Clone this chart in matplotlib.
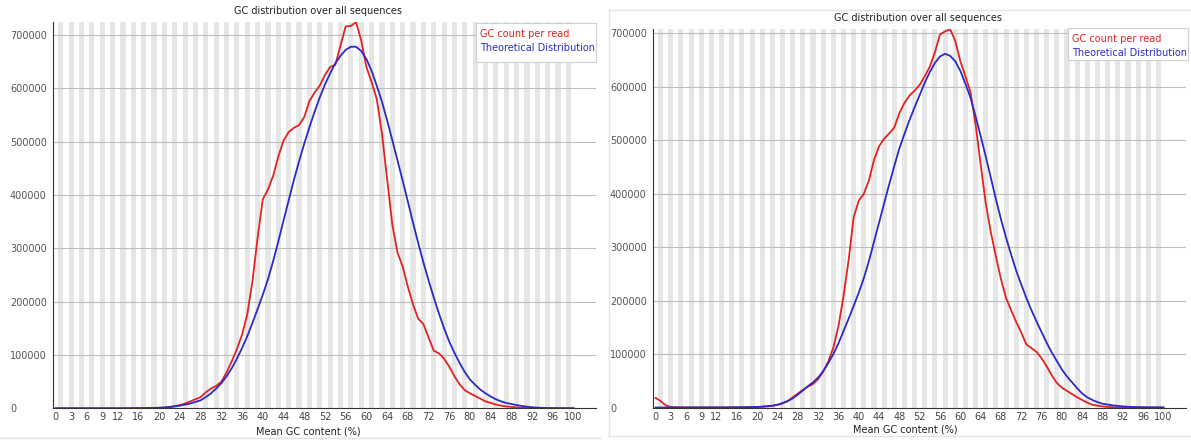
import matplotlib
matplotlib.use('Agg')
import matplotlib.pyplot as plt
from matplotlib.patches import Rectangle
from matplotlib.lines import Line2D
from matplotlib.transforms import Affine2D

W, H = 1191, 441

gc = list(range(101))

# read counts per mean GC bin, in thousands of reads
left_count = [
    0, 0, 0, 0, 0, 0, 0, 0, 0, 0,
    0, 0, 0, 0, 0, 0.2, 0.3, 0.4, 0.5, 0.7,
    1, 1.5, 2.5, 4, 6, 9, 13, 17, 21, 30,
    37, 42, 50, 67, 88, 111, 138, 176, 238, 320,
    392, 410, 436, 472, 502, 518, 526, 531, 546, 576,
    592, 605, 625, 640, 644, 680, 716, 717, 724, 690,
    640, 612, 580, 516, 430, 345, 292, 266, 228, 195,
    168, 158, 133, 108, 103, 93, 78, 60, 45, 34,
    28, 23, 18, 13, 10, 7, 5, 3.5, 2.5, 1.8,
    1.2, 0.8, 0.5, 0.3, 0.2, 0.1, 0, 0, 0, 0,
    0]
left_theory = [
    0, 0, 0, 0, 0, 0, 0, 0, 0, 0,
    0, 0, 0, 0, 0.1, 0.2, 0.3, 0.4, 0.5, 0.7,
    1, 1.5, 2.5, 3.5, 5, 7, 9, 12, 15, 21,
    28, 37, 47, 60, 75, 93, 113, 135, 160, 186,
    213, 242, 276, 313, 352, 390, 428, 463, 496, 527,
    556, 583, 607, 628, 647, 661, 672, 678, 678, 670,
    655, 633, 605, 575, 540, 503, 465, 427, 388, 348,
    310, 274, 240, 208, 178, 150, 125, 104, 85, 68,
    54, 44, 35, 28, 22, 17, 13, 10, 8, 6,
    4.5, 3, 2, 1.2, 0.8, 0.5, 0.3, 0.2, 0.1, 0,
    0]
right_count = [
    18, 12, 4, 1, 0.5, 0.3, 0.3, 0.3, 0.3, 0.3,
    0.3, 0.3, 0.3, 0.3, 0.3, 0.3, 0.4, 0.5, 0.6, 0.8,
    1, 1.5, 2, 3, 5, 8, 12, 19, 26, 33,
    39, 44, 53, 67, 86, 112, 152, 208, 275, 356,
    387, 400, 425, 463, 489, 503, 513, 524, 551, 570,
    584, 593, 604, 620, 638, 665, 698, 704, 708, 686,
    648, 620, 590, 530, 455, 382, 328, 283, 240, 205,
    182, 160, 140, 118, 111, 104, 92, 77, 60, 46,
    37, 31, 25, 19, 14, 9, 5, 3.5, 2, 1,
    0.5, 0.4, 0.3, 0.2, 0.1, 0, 0, 0, 0, 0,
    0]
right_theory = [
    0, 0, 0, 0, 0, 0, 0, 0, 0, 0,
    0, 0, 0, 0, 0.1, 0.2, 0.3, 0.4, 0.6, 0.8,
    1, 1.5, 2.5, 3.5, 5, 8, 12, 17, 24, 32,
    40, 47, 56, 68, 83, 100, 120, 143, 166, 190,
    215, 242, 274, 310, 346, 382, 418, 452, 485, 512,
    538, 562, 585, 608, 628, 645, 657, 662, 658, 648,
    630, 606, 580, 545, 508, 470, 430, 390, 352, 318,
    286, 256, 230, 205, 182, 161, 141, 121, 103, 87,
    71, 58, 47, 36, 26, 19, 14, 10, 7, 5.5,
    4, 3, 2, 1.4, 1, 0.7, 0.5, 0.3, 0.2, 0.1,
    0]

xtick_pos = [0, 3, 6, 9, 12, 16, 20, 24, 28, 32, 36, 40, 44, 48, 52, 56,
             60, 64, 68, 72, 76, 80, 84, 88, 92, 96, 100]
ytick_vals = [0, 100000, 200000, 300000, 400000, 500000, 600000, 700000]

title = "GC distribution over all sequences"
xlabel = "Mean GC content (%)"
legend_labels = ["GC count per read", "Theoretical Distribution"]

RED = '#e32222'
BLUE = '#2b2bc4'

fig = plt.figure(figsize=(W / 100, H / 100), dpi=100)
px = Affine2D().scale(1 / W, -1 / H).translate(0, 1) + fig.transFigure

panels = [
    # plot box in px (left, top, right, bottom), bin width px, title xy, xlabel xy, legend box
    dict(count=left_count, theory=left_theory, box=(53, 22.2, 596, 408.3), bw=5.18,
         title=(318, 11), xlab=(308, 432), leg=(476, 22.7, 596, 61.7)),
    dict(count=right_count, theory=right_theory, box=(653, 29.2, 1186, 407.5), bw=5.08,
         title=(918, 18), xlab=(905, 430), leg=(1068, 28.3, 1188, 60)),
]

for p in panels:
    l, t, r, b = p['box']
    ax = fig.add_axes([l / W, 1 - b / H, (r - l) / W, (b - t) / H])
    ax.set_facecolor('white')
    counts = [v * 1000 for v in p['count']]
    theory = [v * 1000 for v in p['theory']]
    ax.set_xlim(-0.5, -0.5 + (r - l) / p['bw'])
    ax.set_ylim(0, max(counts))

    for i in range(1, 101, 2):
        ax.axvspan(i - 0.5, i + 0.5, color='#e6e6e6', lw=0, zorder=0)
    for v in ytick_vals[1:]:
        ax.axhline(v, color='#bdbdbd', lw=0.8, zorder=1)

    ax.plot(gc, counts, color=RED, lw=1.3, zorder=3)
    ax.plot(gc, theory, color=BLUE, lw=1.3, zorder=4)

    for s in ['top', 'right']:
        ax.spines[s].set_visible(False)
    for s in ['left', 'bottom']:
        ax.spines[s].set_color('#333333')
        ax.spines[s].set_linewidth(0.8)

    ax.set_xticks(xtick_pos)
    ax.set_xticklabels([str(v) for v in xtick_pos])
    ax.set_yticks(ytick_vals)
    ax.set_yticklabels([str(v) for v in ytick_vals])
    ax.tick_params(axis='x', length=0, pad=3, labelsize=7, labelcolor='#444444')
    ax.tick_params(axis='y', length=0, pad=31, labelsize=7, labelcolor='#555555')
    for lab in ax.get_yticklabels():
        lab.set_horizontalalignment('left')

    fig.text(*p['title'], title, transform=px, ha='center', va='center',
             fontsize=7, color='#222222')
    fig.text(*p['xlab'], xlabel, transform=px, ha='center', va='center',
             fontsize=7, color='#222222')

    lx0, ly0, lx1, ly1 = p['leg']
    fig.add_artist(Rectangle((lx0, ly0), lx1 - lx0, ly1 - ly0, transform=px,
                             facecolor='white', edgecolor='#d0d0d0', lw=0.8, zorder=5))
    fig.text(lx0 + 4, ly0 + 11, legend_labels[0], transform=px, ha='left', va='center',
             fontsize=7, color=RED, zorder=6)
    fig.text(lx0 + 4, ly0 + 25, legend_labels[1], transform=px, ha='left', va='center',
             fontsize=7, color=BLUE, zorder=6)

# faint window borders
frame = '#e4e4e4'
fig.add_artist(Line2D([0, 600], [438, 438], transform=px, color=frame, lw=1))
fig.add_artist(Line2D([609, 609], [10, 436], transform=px, color=frame, lw=1))
fig.add_artist(Line2D([609, 1191], [436, 436], transform=px, color=frame, lw=1))
fig.add_artist(Line2D([609, 1191], [10, 10], transform=px, color=frame, lw=1))

fig.savefig('out.png', dpi=100)
